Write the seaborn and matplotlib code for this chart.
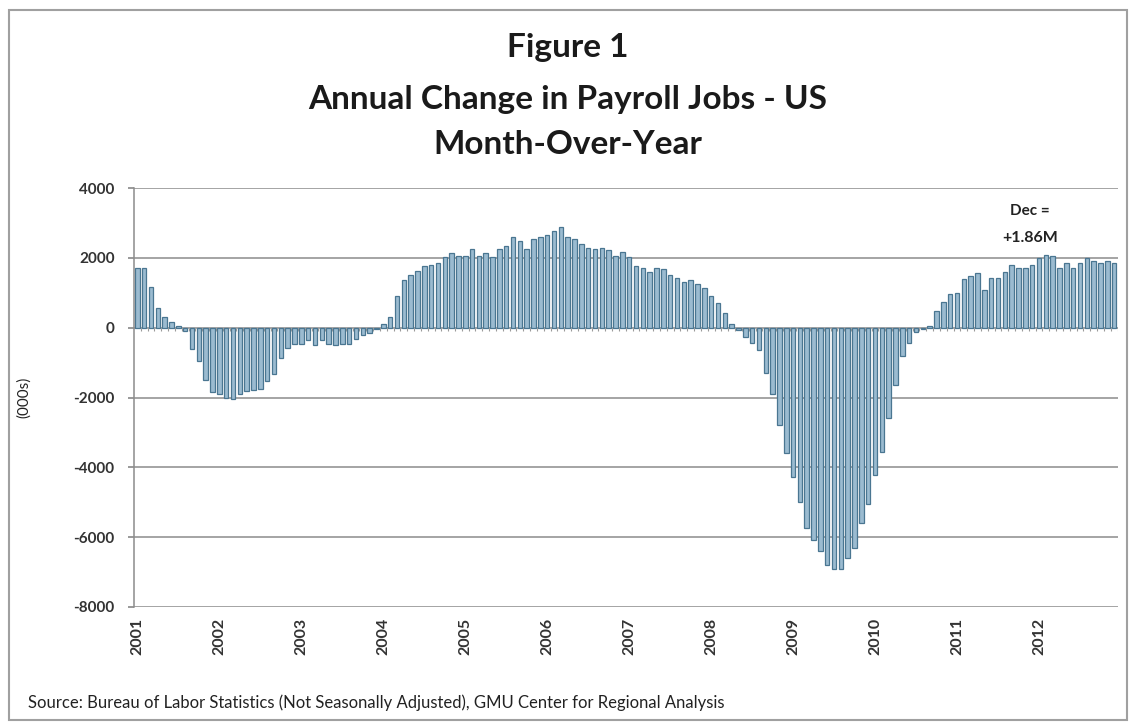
import matplotlib
matplotlib.use("Agg")
import matplotlib.pyplot as plt
import seaborn as sns
import pandas as pd
import numpy as np
from matplotlib.patches import Rectangle

# ---- data (thousands of jobs, month-over-year change, Jan 2001 - Dec 2012)
years = [str(y) for y in range(2001, 2013)]
v2001 = [1720, 1720, 1160, 550, 310, 160, 50, -90, -600, -960, -1500, -1850]
v2002 = [-1900, -2020, -2050, -1900, -1800, -1780, -1750, -1520, -1330, -870, -590, -470]
v2003 = [-460, -360, -510, -360, -460, -510, -460, -460, -315, -215, -150, -40]
v2004 = [100, 310, 910, 1360, 1510, 1620, 1780, 1790, 1860, 2010, 2150, 2060]
v2005 = [2040, 2240, 2040, 2130, 2030, 2240, 2340, 2590, 2490, 2250, 2540, 2590]
v2006 = [2640, 2760, 2870, 2590, 2550, 2390, 2280, 2260, 2280, 2230, 2050, 2160]
v2007 = [2020, 1770, 1710, 1590, 1700, 1680, 1500, 1420, 1300, 1360, 1260, 1150]
v2008 = [920, 710, 430, 100, -80, -280, -450, -650, -1300, -1900, -2800, -3600]
v2009 = [-4270, -5000, -5750, -6080, -6400, -6800, -6900, -6900, -6610, -6320, -5590, -5050]
v2010 = [-4220, -3550, -2590, -1640, -800, -440, -110, -40, 50, 470, 730, 965]
v2011 = [995, 1390, 1490, 1560, 1070, 1410, 1410, 1590, 1790, 1720, 1720, 1800]
v2012 = [2000, 2080, 2050, 1720, 1850, 1720, 1850, 2000, 1920, 1850, 1920, 1860]
yticks = [4000, 2000, 0, -2000, -4000, -6000, -8000]

values = (v2001 + v2002 + v2003 + v2004 + v2005 + v2006 + v2007 + v2008
          + v2009 + v2010 + v2011 + v2012)
months = list(range(len(values)))
df = pd.DataFrame({"month": months, "change": values})

sns.set_theme(style="white")
plt.rcParams["font.family"] = ["Lato", "DejaVu Sans"]

fig = plt.figure(figsize=(11.36, 7.28), dpi=100)
fig.patch.set_facecolor("white")
ax = fig.add_axes([134 / 1136, 1 - 607 / 728, (1117.5 - 134) / 1136, (607 - 188) / 728])

# gridlines
for t in yticks:
    ax.axhline(t, color="#8c8c8c", lw=1.1, zorder=0)

sns.barplot(data=df, x="month", y="change", order=months, ax=ax,
            color="#9bbbd0", edgecolor="#4a7691", linewidth=0.9,
            width=0.66, saturation=1, zorder=2)

# small category tick marks along the zero axis
ax.vlines(np.arange(len(values)) + 0.5, -90, 0, color="#9a9a9a", lw=0.8, zorder=1)

ax.set_xlim(-0.5, len(values) - 0.5)
ax.set_ylim(-8000, 4000)
ax.set_yticks(yticks)
ax.set_yticklabels([str(t) for t in yticks], fontsize=11, fontweight="bold", color="#333333")
ax.set_xticks(range(0, len(values), 12))
ax.set_xticklabels(years, rotation=90, fontsize=11.5, fontweight="bold", color="#333333")
ax.tick_params(axis="x", length=0, pad=8)
ax.tick_params(axis="y", length=4, color="#8c8c8c", pad=10, left=True)
ax.set_xlabel("")
ax.set_ylabel("(000s)", fontsize=11, color="#222222", labelpad=30)
for s in ["top", "right", "bottom"]:
    ax.spines[s].set_visible(False)
ax.spines["left"].set_color("#8c8c8c")
ax.spines["left"].set_linewidth(1.1)

# titles
title_kw = dict(ha="center", va="center", fontsize=24, fontweight="bold", color="#1a1a1a")
fig.text(0.5, 1 - 47 / 728, "Figure 1", **title_kw)
fig.text(0.5, 1 - 99 / 728, "Annual Change in Payroll Jobs - US", **title_kw)
fig.text(0.5, 1 - 145 / 728, "Month-Over-Year", **title_kw)

# annotation
fig.text(1030 / 1136, 1 - 211 / 728, "Dec =", ha="center", va="center",
         fontsize=11, fontweight="bold", color="#222222")
fig.text(1030 / 1136, 1 - 238 / 728, "+1.86M", ha="center", va="center",
         fontsize=11.5, fontweight="bold", color="#222222")

# source
fig.text(28 / 1136, 1 - 703 / 728,
         "Source: Bureau of Labor Statistics (Not Seasonally Adjusted), GMU Center for Regional Analysis",
         ha="left", va="center", fontsize=12, color="#222222")

# outer frame
fig.patches.append(Rectangle((9 / 1136, 1 - 720 / 728), (1127 - 9) / 1136, (720 - 10) / 728,
                             transform=fig.transFigure, fill=False,
                             edgecolor="#a0a0a0", lw=1.5))

fig.savefig("out.png", dpi=100)
